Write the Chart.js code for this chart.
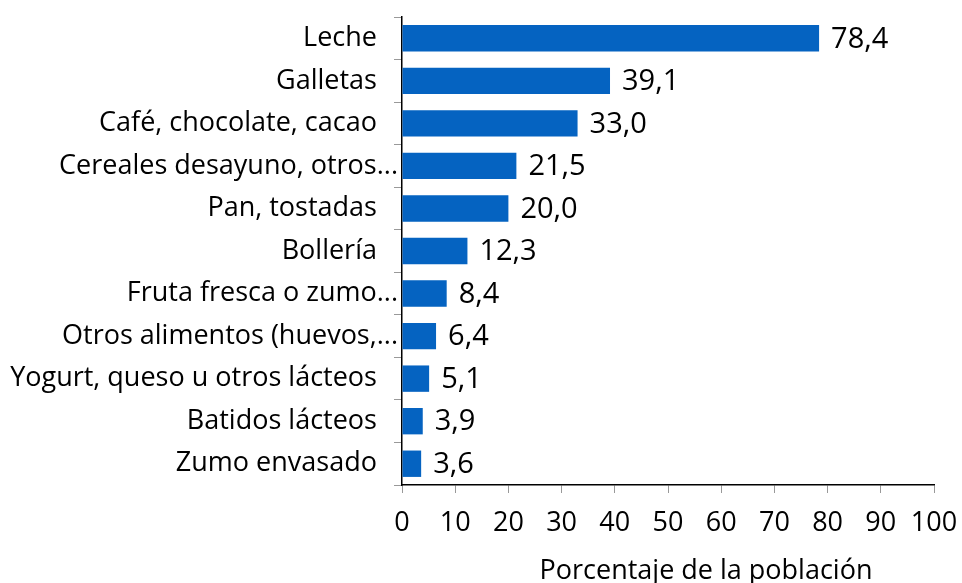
<!DOCTYPE html>
<html>
<head>
<meta charset="utf-8">
<script src="https://cdn.jsdelivr.net/npm/chart.js"></script>
<style>
  html, body { margin: 0; padding: 0; background: #fff; }
  #wrap { width: 962px; height: 583px; }
</style>
</head>
<body>
<div id="wrap"><canvas id="chart" width="962" height="583"></canvas></div>
<script>
// Categories and values (% of population)
const categories = [
    'Leche   ',
    'Galletas   ',
    'Café, chocolate, cacao   ',
    'Cereales desayuno, otros...',
    'Pan, tostadas   ',
    'Bollería   ',
    'Fruta fresca o zumo...',
    'Otros alimentos (huevos,...',
    'Yogurt, queso u otros lácteos   ',
    'Batidos lácteos   ',
    'Zumo envasado   '
];
const values = [78.4, 39.1, 33.0, 21.5, 20.0, 12.3, 8.4, 6.4, 5.1, 3.9, 3.6];
const xTicks = [0, 10, 20, 30, 40, 50, 60, 70, 80, 90, 100];
const axisTitle = 'Porcentaje de la población';

const FONT = "'Open Sans', 'Liberation Sans', sans-serif";

// value labels at bar ends, comma decimal
const valueLabels = {
    id: 'valueLabels',
    afterDatasetsDraw(chart) {
        const ctx = chart.ctx;
        const meta = chart.getDatasetMeta(0);
        ctx.save();
        ctx.font = '29px ' + FONT;
        ctx.fillStyle = '#000';
        ctx.textAlign = 'left';
        ctx.textBaseline = 'middle';
        meta.data.forEach((bar, i) => {
            ctx.fillText(values[i].toFixed(1).replace('.', ','), bar.x + 12, bar.y + 1);
        });
        ctx.restore();
    }
};

// x axis title, placed a bit right of centre like the original
const xTitle = {
    id: 'xTitle',
    afterDraw(chart) {
        const ctx = chart.ctx;
        const area = chart.chartArea;
        ctx.save();
        ctx.font = '27px ' + FONT;
        ctx.fillStyle = '#000';
        ctx.textAlign = 'center';
        ctx.textBaseline = 'alphabetic';
        ctx.fillText(axisTitle, (area.left + area.right) / 2 + 38, 579);
        ctx.restore();
    }
};

new Chart(document.getElementById('chart'), {
    type: 'bar',
    data: {
        labels: categories,
        datasets: [{
            data: values,
            backgroundColor: '#0563C1',
            barPercentage: 0.62,
            categoryPercentage: 1
        }]
    },
    options: {
        indexAxis: 'y',
        responsive: false,
        animation: false,
        layout: { padding: { top: 17, right: 28, left: 0, bottom: 0 } },
        plugins: {
            legend: { display: false },
            tooltip: { enabled: false }
        },
        scales: {
            x: {
                min: 0,
                max: 100,
                afterBuildTicks(scale) {
                    scale.ticks = xTicks.map(v => ({ value: v }));
                },
                afterFit(scale) {
                    scale.height = 98;
                    scale.paddingRight = 0;   // let the "100" label overhang the plot edge
                },
                grid: { drawOnChartArea: false, tickLength: 8, color: '#999' },
                border: { color: '#000', width: 1.5 },
                ticks: {
                    padding: 14,
                    color: '#000',
                    font: { family: FONT, size: 27 }
                }
            },
            y: {
                afterFit(scale) { scale.width = 402; },
                grid: { drawOnChartArea: false, tickLength: 8, color: '#999', offset: true },
                border: { color: '#000', width: 1.5 },
                ticks: {
                    padding: -4,
                    color: '#000',
                    font: { family: FONT, size: 27 }
                }
            }
        }
    },
    plugins: [valueLabels, xTitle]
});
</script>
</body>
</html>
